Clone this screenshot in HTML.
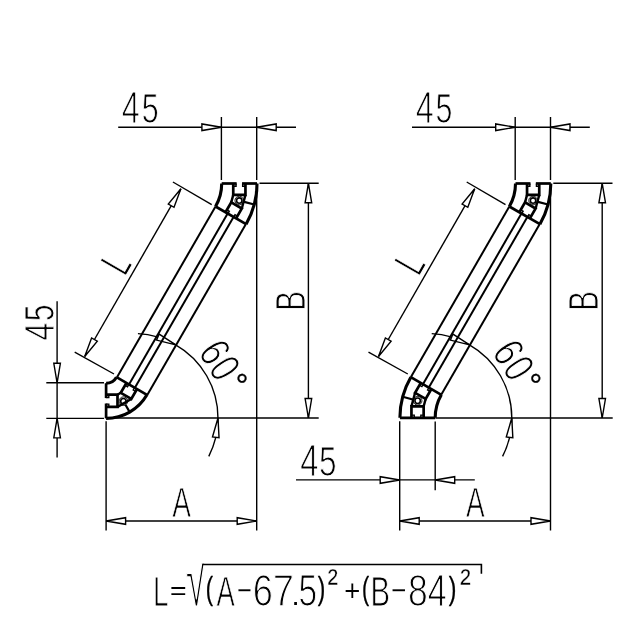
<!DOCTYPE html>
<html lang="en"><head><meta charset="utf-8"><title>Profile 45x45 60° dimensions</title>
<style>
html,body{margin:0;padding:0;background:#fff;}
svg{display:block;}
svg line, svg path, svg circle{stroke:#000;fill:none;stroke-linecap:butt;}
svg path.ar, svg circle.wf{fill:#fff;stroke-linejoin:miter;}
svg{filter:grayscale(1);}
svg tspan.bk{stroke:#000;}
svg text{font-family:"Liberation Sans",sans-serif;fill:#000;stroke:#fff;stroke-linejoin:round;}
</style></head>
<body>
<svg width="638" height="638" viewBox="0 0 638 638">
<rect x="0" y="0" width="638" height="638" style="fill:#fff;stroke:none"/>
<line x1="118.20" y1="127.25" x2="296.00" y2="127.25" stroke-width="1.4"/>
<line x1="221.40" y1="117.00" x2="221.40" y2="180.00" stroke-width="1.4"/>
<line x1="256.70" y1="117.00" x2="256.70" y2="180.00" stroke-width="1.4"/>
<path d="M221.40,127.25 L201.90,123.95 L201.90,130.55 Z" class="ar" stroke-width="1.4"/>
<path d="M256.70,127.25 L276.20,130.55 L276.20,123.95 Z" class="ar" stroke-width="1.4"/>
<text transform="translate(0.00,122.60)"><tspan x="121.85" y="0.54" font-size="43.44" stroke-width="1.09" textLength="18.00" lengthAdjust="spacingAndGlyphs">4</tspan><tspan x="141.63" y="0.51" font-size="43.34" stroke-width="1.01" textLength="16.90" lengthAdjust="spacingAndGlyphs">5</tspan></text>
<line x1="256.70" y1="184.50" x2="256.70" y2="530.40" stroke-width="1.4"/>
<line x1="259.50" y1="183.30" x2="318.70" y2="183.30" stroke-width="1.4"/>
<line x1="308.40" y1="183.30" x2="308.40" y2="418.00" stroke-width="1.4"/>
<path d="M308.40,183.30 L305.10,202.80 L311.70,202.80 Z" class="ar" stroke-width="1.4"/>
<path d="M308.40,418.00 L311.70,398.50 L305.10,398.50 Z" class="ar" stroke-width="1.4"/>
<text transform="translate(304.00,308.10) rotate(-90)"><tspan x="-2.77" y="0.49" font-size="43.29" stroke-width="0.98" textLength="19.77" lengthAdjust="spacingAndGlyphs">B</tspan></text>
<line x1="106.10" y1="421.30" x2="106.10" y2="530.40" stroke-width="1.4"/>
<line x1="106.10" y1="521.00" x2="256.70" y2="521.00" stroke-width="1.4"/>
<path d="M106.10,521.00 L125.60,524.30 L125.60,517.70 Z" class="ar" stroke-width="1.4"/>
<path d="M256.70,521.00 L237.20,517.70 L237.20,524.30 Z" class="ar" stroke-width="1.4"/>
<text transform="translate(0.00,516.50)"><tspan x="172.25" y="0.46" font-size="43.19" stroke-width="0.92" textLength="18.71" lengthAdjust="spacingAndGlyphs">A</tspan></text>
<line x1="172.90" y1="182.00" x2="211.70" y2="204.60" stroke-width="1.4"/>
<line x1="74.70" y1="352.20" x2="114.00" y2="374.00" stroke-width="1.4"/>
<line x1="180.90" y1="188.80" x2="84.70" y2="356.50" stroke-width="1.4"/>
<path d="M180.90,188.80 L168.29,204.04 L174.01,207.34 Z" class="ar" stroke-width="1.4"/>
<path d="M84.70,356.50 L97.31,341.26 L91.59,337.96 Z" class="ar" stroke-width="1.4"/>
<text transform="translate(125.90,274.90) rotate(-60)"><tspan x="-2.56" y="0.45" font-size="43.17" stroke-width="0.90" textLength="15.36" lengthAdjust="spacingAndGlyphs">L</tspan></text>
<path d="M208.79,456.36 A84.5,84.5 0 0 0 137.92,333.62" stroke-width="1.4"/>
<path d="M218.00,418.00 L212.48,436.99 L219.04,437.75 Z" class="ar" stroke-width="1.4"/>
<path d="M175.75,344.82 L159.16,334.05 L156.54,340.11 Z" class="ar" stroke-width="1.4"/>
<line x1="147.26" y1="394.96" x2="245.94" y2="224.05" stroke-width="2.0"/>
<line x1="134.88" y1="387.81" x2="233.55" y2="216.90" stroke-width="2.0"/>
<line x1="128.99" y1="384.41" x2="227.66" y2="213.50" stroke-width="2.0"/>
<line x1="116.86" y1="377.41" x2="215.54" y2="206.50" stroke-width="2.0"/>
<text transform="translate(212.83,375.89) rotate(58)"><tspan x="-28.54" y="0.57" font-size="43.51" stroke-width="1.13" textLength="18.64" lengthAdjust="spacingAndGlyphs">6</tspan><tspan x="-8.96" y="0.54" font-size="43.44" stroke-width="1.08" textLength="17.92" lengthAdjust="spacingAndGlyphs">0</tspan><tspan x="11.09" y="-5.40" font-size="32.50" stroke-width="0.30" textLength="12.84" lengthAdjust="spacingAndGlyphs" class="bk">°</tspan></text>
<path d="M221.70,183.50 L236.65,183.50" stroke-width="2.7"/>
<path d="M242.05,183.50 L257.00,183.50" stroke-width="2.7"/>
<path d="M233.25,183.50 L233.25,194.90 L245.45,194.90 L245.45,183.50" stroke-width="2.7" stroke-linejoin="miter"/>
<path d="M236.05,183.50 L236.05,186.20 L233.25,186.20" stroke-width="1.4" stroke-linejoin="miter"/>
<path d="M242.65,183.50 L242.65,186.20 L245.45,186.20" stroke-width="1.4" stroke-linejoin="miter"/>
<path d="M215.54,206.50 L246.11,224.15" stroke-width="2.7"/>
<path d="M225.54,212.28 L231.24,202.40 L241.81,208.50 L236.11,218.38" stroke-width="2.7" stroke-linejoin="miter"/>
<path d="M227.96,213.68 L229.31,211.34 L226.89,209.94" stroke-width="1.4" stroke-linejoin="miter"/>
<path d="M233.68,216.97 L235.03,214.64 L237.46,216.04" stroke-width="1.4" stroke-linejoin="miter"/>
<path d="M221.70,183.50 A46.00,46.00 0 0 1 215.54,206.50" stroke-width="3.1" stroke-linecap="round"/>
<path d="M257.00,183.50 A81.30,81.30 0 0 1 246.11,224.15" stroke-width="3.1" stroke-linecap="round"/>
<circle cx="239.26" cy="200.53" r="4.3" class="wf" stroke-width="0.9"/>
<circle cx="239.26" cy="200.53" r="2.7" class="wf" stroke-width="1.6"/>
<path d="M233.25,194.90 L231.24,202.40" stroke-width="2.4"/>
<path d="M245.45,194.90 L241.81,208.50" stroke-width="2.4"/>
<path d="M243.22,201.59 L254.23,204.54" stroke-width="2.2"/>
<line x1="110.00" y1="418.00" x2="318.70" y2="418.00" stroke-width="1.4"/>
<line x1="46.30" y1="382.80" x2="104.00" y2="382.80" stroke-width="1.4"/>
<line x1="46.30" y1="418.40" x2="104.00" y2="418.40" stroke-width="1.4"/>
<line x1="57.10" y1="301.30" x2="57.10" y2="457.60" stroke-width="1.4"/>
<path d="M57.10,382.80 L60.40,363.30 L53.80,363.30 Z" class="ar" stroke-width="1.4"/>
<path d="M57.10,418.40 L53.80,437.90 L60.40,437.90 Z" class="ar" stroke-width="1.4"/>
<text transform="translate(53.00,340.00) rotate(-90)"><tspan x="-0.42" y="0.53" font-size="43.41" stroke-width="1.06" textLength="17.63" lengthAdjust="spacingAndGlyphs">4</tspan><tspan x="18.64" y="0.50" font-size="43.32" stroke-width="1.00" textLength="16.77" lengthAdjust="spacingAndGlyphs">5</tspan></text>
<path d="M106.10,383.20 L106.10,398.10" stroke-width="2.7"/>
<path d="M106.10,403.50 L106.10,418.40" stroke-width="2.7"/>
<path d="M106.10,394.70 L117.50,394.70 L117.50,406.90 L106.10,406.90" stroke-width="2.7" stroke-linejoin="miter"/>
<path d="M106.10,397.50 L108.80,397.50 L108.80,394.70" stroke-width="1.4" stroke-linejoin="miter"/>
<path d="M106.10,404.10 L108.80,404.10 L108.80,406.90" stroke-width="1.4" stroke-linejoin="miter"/>
<path d="M116.49,377.20 L146.98,394.80" stroke-width="2.7"/>
<path d="M126.45,382.95 L120.75,392.82 L131.32,398.92 L137.02,389.05" stroke-width="2.7" stroke-linejoin="miter"/>
<path d="M128.88,384.35 L127.53,386.69 L125.10,385.29" stroke-width="1.4" stroke-linejoin="miter"/>
<path d="M134.59,387.65 L133.24,389.99 L135.67,391.39" stroke-width="1.4" stroke-linejoin="miter"/>
<path d="M106.10,383.20 A12.00,12.00 0 0 0 116.49,377.20" stroke-width="3.1" stroke-linecap="round"/>
<path d="M106.10,418.40 A47.20,47.20 0 0 0 146.98,394.80" stroke-width="3.1" stroke-linecap="round"/>
<circle cx="123.40" cy="401.16" r="4.3" class="wf" stroke-width="0.9"/>
<circle cx="123.40" cy="401.16" r="2.7" class="wf" stroke-width="1.6"/>
<path d="M117.50,394.70 L120.75,392.82" stroke-width="2.4"/>
<path d="M117.50,406.90 L131.32,398.92" stroke-width="2.4"/>
<path d="M125.45,404.72 L129.70,412.08" stroke-width="2.2"/>
<line x1="412.00" y1="127.25" x2="589.80" y2="127.25" stroke-width="1.4"/>
<line x1="515.20" y1="117.00" x2="515.20" y2="180.00" stroke-width="1.4"/>
<line x1="550.50" y1="117.00" x2="550.50" y2="180.00" stroke-width="1.4"/>
<path d="M515.20,127.25 L495.70,123.95 L495.70,130.55 Z" class="ar" stroke-width="1.4"/>
<path d="M550.50,127.25 L570.00,130.55 L570.00,123.95 Z" class="ar" stroke-width="1.4"/>
<text transform="translate(293.80,122.60)"><tspan x="121.85" y="0.54" font-size="43.44" stroke-width="1.09" textLength="18.00" lengthAdjust="spacingAndGlyphs">4</tspan><tspan x="141.63" y="0.51" font-size="43.34" stroke-width="1.01" textLength="16.90" lengthAdjust="spacingAndGlyphs">5</tspan></text>
<line x1="550.50" y1="184.50" x2="550.50" y2="530.40" stroke-width="1.4"/>
<line x1="553.30" y1="183.30" x2="612.50" y2="183.30" stroke-width="1.4"/>
<line x1="602.20" y1="183.30" x2="602.20" y2="418.00" stroke-width="1.4"/>
<path d="M602.20,183.30 L598.90,202.80 L605.50,202.80 Z" class="ar" stroke-width="1.4"/>
<path d="M602.20,418.00 L605.50,398.50 L598.90,398.50 Z" class="ar" stroke-width="1.4"/>
<text transform="translate(597.80,308.10) rotate(-90)"><tspan x="-2.77" y="0.49" font-size="43.29" stroke-width="0.98" textLength="19.77" lengthAdjust="spacingAndGlyphs">B</tspan></text>
<line x1="399.70" y1="421.30" x2="399.70" y2="530.40" stroke-width="1.4"/>
<line x1="399.70" y1="521.00" x2="550.50" y2="521.00" stroke-width="1.4"/>
<path d="M399.70,521.00 L419.20,524.30 L419.20,517.70 Z" class="ar" stroke-width="1.4"/>
<path d="M550.50,521.00 L531.00,517.70 L531.00,524.30 Z" class="ar" stroke-width="1.4"/>
<text transform="translate(293.80,516.50)"><tspan x="172.25" y="0.46" font-size="43.19" stroke-width="0.92" textLength="18.71" lengthAdjust="spacingAndGlyphs">A</tspan></text>
<line x1="466.70" y1="182.00" x2="505.50" y2="204.60" stroke-width="1.4"/>
<line x1="368.50" y1="352.20" x2="407.80" y2="374.00" stroke-width="1.4"/>
<line x1="474.70" y1="188.80" x2="378.50" y2="356.50" stroke-width="1.4"/>
<path d="M474.70,188.80 L462.09,204.04 L467.81,207.34 Z" class="ar" stroke-width="1.4"/>
<path d="M378.50,356.50 L391.11,341.26 L385.39,337.96 Z" class="ar" stroke-width="1.4"/>
<text transform="translate(419.70,274.90) rotate(-60)"><tspan x="-2.56" y="0.45" font-size="43.17" stroke-width="0.90" textLength="15.36" lengthAdjust="spacingAndGlyphs">L</tspan></text>
<path d="M502.59,456.36 A84.5,84.5 0 0 0 431.72,333.62" stroke-width="1.4"/>
<path d="M511.80,418.00 L506.28,436.99 L512.84,437.75 Z" class="ar" stroke-width="1.4"/>
<path d="M469.55,344.82 L452.96,334.05 L450.34,340.11 Z" class="ar" stroke-width="1.4"/>
<line x1="441.21" y1="394.71" x2="539.74" y2="224.05" stroke-width="2.0"/>
<line x1="428.82" y1="387.56" x2="527.35" y2="216.90" stroke-width="2.0"/>
<line x1="422.93" y1="384.16" x2="521.46" y2="213.50" stroke-width="2.0"/>
<line x1="410.81" y1="377.16" x2="509.34" y2="206.50" stroke-width="2.0"/>
<text transform="translate(506.63,375.89) rotate(58)"><tspan x="-28.54" y="0.57" font-size="43.51" stroke-width="1.13" textLength="18.64" lengthAdjust="spacingAndGlyphs">6</tspan><tspan x="-8.96" y="0.54" font-size="43.44" stroke-width="1.08" textLength="17.92" lengthAdjust="spacingAndGlyphs">0</tspan><tspan x="11.09" y="-5.40" font-size="32.50" stroke-width="0.30" textLength="12.84" lengthAdjust="spacingAndGlyphs" class="bk">°</tspan></text>
<path d="M515.50,183.50 L530.45,183.50" stroke-width="2.7"/>
<path d="M535.85,183.50 L550.80,183.50" stroke-width="2.7"/>
<path d="M527.05,183.50 L527.05,194.90 L539.25,194.90 L539.25,183.50" stroke-width="2.7" stroke-linejoin="miter"/>
<path d="M529.85,183.50 L529.85,186.20 L527.05,186.20" stroke-width="1.4" stroke-linejoin="miter"/>
<path d="M536.45,183.50 L536.45,186.20 L539.25,186.20" stroke-width="1.4" stroke-linejoin="miter"/>
<path d="M509.34,206.50 L539.91,224.15" stroke-width="2.7"/>
<path d="M519.34,212.28 L525.04,202.40 L535.61,208.50 L529.91,218.38" stroke-width="2.7" stroke-linejoin="miter"/>
<path d="M521.76,213.68 L523.11,211.34 L520.69,209.94" stroke-width="1.4" stroke-linejoin="miter"/>
<path d="M527.48,216.97 L528.83,214.64 L531.26,216.04" stroke-width="1.4" stroke-linejoin="miter"/>
<path d="M515.50,183.50 A46.00,46.00 0 0 1 509.34,206.50" stroke-width="3.1" stroke-linecap="round"/>
<path d="M550.80,183.50 A81.30,81.30 0 0 1 539.91,224.15" stroke-width="3.1" stroke-linecap="round"/>
<circle cx="533.06" cy="200.53" r="4.3" class="wf" stroke-width="0.9"/>
<circle cx="533.06" cy="200.53" r="2.7" class="wf" stroke-width="1.6"/>
<path d="M527.05,194.90 L525.04,202.40" stroke-width="2.4"/>
<path d="M539.25,194.90 L535.61,208.50" stroke-width="2.4"/>
<path d="M537.02,201.59 L548.03,204.54" stroke-width="2.2"/>
<line x1="435.50" y1="418.00" x2="612.70" y2="418.00" stroke-width="1.4"/>
<line x1="435.20" y1="421.40" x2="435.20" y2="490.30" stroke-width="1.4"/>
<line x1="296.00" y1="479.90" x2="474.80" y2="479.90" stroke-width="1.4"/>
<path d="M399.70,480.00 L380.20,476.70 L380.20,483.30 Z" class="ar" stroke-width="1.4"/>
<path d="M435.20,480.00 L454.70,483.30 L454.70,476.70 Z" class="ar" stroke-width="1.4"/>
<text transform="translate(294.00,475.00)"><tspan x="6.13" y="0.55" font-size="43.47" stroke-width="1.11" textLength="18.25" lengthAdjust="spacingAndGlyphs">4</tspan><tspan x="25.05" y="0.53" font-size="43.40" stroke-width="1.06" textLength="17.56" lengthAdjust="spacingAndGlyphs">5</tspan></text>
<path d="M435.20,417.80 L399.90,417.80" stroke-width="2.7"/>
<path d="M423.65,417.80 L423.65,406.40 L411.45,406.40 L411.45,417.80" stroke-width="2.7" stroke-linejoin="miter"/>
<path d="M420.85,417.80 L420.85,415.10 L423.65,415.10" stroke-width="1.4" stroke-linejoin="miter"/>
<path d="M414.25,417.80 L414.25,415.10 L411.45,415.10" stroke-width="1.4" stroke-linejoin="miter"/>
<path d="M441.36,394.80 L410.79,377.15" stroke-width="2.7"/>
<path d="M431.36,389.02 L425.66,398.90 L415.09,392.80 L420.79,382.93" stroke-width="2.7" stroke-linejoin="miter"/>
<path d="M428.94,387.62 L427.59,389.96 L430.01,391.36" stroke-width="1.4" stroke-linejoin="miter"/>
<path d="M423.22,384.32 L421.87,386.66 L419.44,385.26" stroke-width="1.4" stroke-linejoin="miter"/>
<path d="M435.20,417.80 A46.00,46.00 0 0 1 441.36,394.80" stroke-width="3.1" stroke-linecap="round"/>
<path d="M399.90,417.80 A81.30,81.30 0 0 1 410.79,377.15" stroke-width="3.1" stroke-linecap="round"/>
<circle cx="417.64" cy="400.77" r="4.3" class="wf" stroke-width="0.9"/>
<circle cx="417.64" cy="400.77" r="2.7" class="wf" stroke-width="1.6"/>
<path d="M423.65,406.40 L425.66,398.90" stroke-width="2.4"/>
<path d="M411.45,406.40 L415.09,392.80" stroke-width="2.4"/>
<path d="M413.68,399.71 L402.67,396.76" stroke-width="2.2"/>
<clipPath id="fc"><rect x="140" y="-41.70" width="360" height="70"/></clipPath>
<text transform="translate(0.00,605.40)" clip-path="url(#fc)"><tspan x="153.02" y="0.46" font-size="43.19" stroke-width="0.91" textLength="15.50" lengthAdjust="spacingAndGlyphs">L</tspan><tspan x="169.91" y="-6.40" font-size="25.40" stroke-width="0.00" textLength="16.59" lengthAdjust="spacingAndGlyphs">=</tspan><tspan x="185.72" y="0.80" font-size="75.50" stroke-width="2.00" textLength="21.14" lengthAdjust="spacingAndGlyphs">√</tspan><tspan x="205.64" y="-6.20" font-size="30.80" stroke-width="0.35" textLength="7.28" lengthAdjust="spacingAndGlyphs" class="bk">(</tspan><tspan x="216.46" y="0.44" font-size="43.15" stroke-width="0.89" textLength="18.27" lengthAdjust="spacingAndGlyphs">A</tspan><tspan x="235.14" y="-3.90" font-size="41.86" stroke-width="1.30" textLength="18.92" lengthAdjust="spacingAndGlyphs">-</tspan><tspan x="252.76" y="0.61" font-size="43.64" stroke-width="1.22" textLength="20.14" lengthAdjust="spacingAndGlyphs">6</tspan><tspan x="272.68" y="0.65" font-size="43.74" stroke-width="1.29" textLength="21.31" lengthAdjust="spacingAndGlyphs">7</tspan><tspan x="291.51" y="0.00" font-size="27.00" stroke-width="0.00" textLength="8.17" lengthAdjust="spacingAndGlyphs">.</tspan><tspan x="298.53" y="0.56" font-size="43.50" stroke-width="1.13" textLength="18.61" lengthAdjust="spacingAndGlyphs">5</tspan><tspan x="317.77" y="-6.20" font-size="30.80" stroke-width="0.35" textLength="7.54" lengthAdjust="spacingAndGlyphs" class="bk">)</tspan><tspan x="327.45" y="-9.20" font-size="38.00" stroke-width="0.30" textLength="10.48" lengthAdjust="spacingAndGlyphs">²</tspan><tspan x="344.31" y="-4.20" font-size="30.00" stroke-width="0.10" textLength="16.10" lengthAdjust="spacingAndGlyphs">+</tspan><tspan x="361.97" y="-6.20" font-size="30.80" stroke-width="0.35" textLength="7.16" lengthAdjust="spacingAndGlyphs" class="bk">(</tspan><tspan x="370.58" y="0.48" font-size="43.27" stroke-width="0.97" textLength="19.49" lengthAdjust="spacingAndGlyphs">B</tspan><tspan x="389.03" y="-3.90" font-size="41.86" stroke-width="1.30" textLength="19.53" lengthAdjust="spacingAndGlyphs">-</tspan><tspan x="408.07" y="0.60" font-size="43.61" stroke-width="1.20" textLength="19.76" lengthAdjust="spacingAndGlyphs">8</tspan><tspan x="427.67" y="0.58" font-size="43.54" stroke-width="1.15" textLength="18.98" lengthAdjust="spacingAndGlyphs">4</tspan><tspan x="448.87" y="-6.20" font-size="30.80" stroke-width="0.35" textLength="7.66" lengthAdjust="spacingAndGlyphs" class="bk">)</tspan><tspan x="459.92" y="-9.20" font-size="38.00" stroke-width="0.30" textLength="10.83" lengthAdjust="spacingAndGlyphs">²</tspan></text>
<path d="M202.6,564.5 L481.4,564.5 L481.4,573.8" stroke-width="1.6" stroke-linejoin="miter"/>
</svg>
</body></html>
